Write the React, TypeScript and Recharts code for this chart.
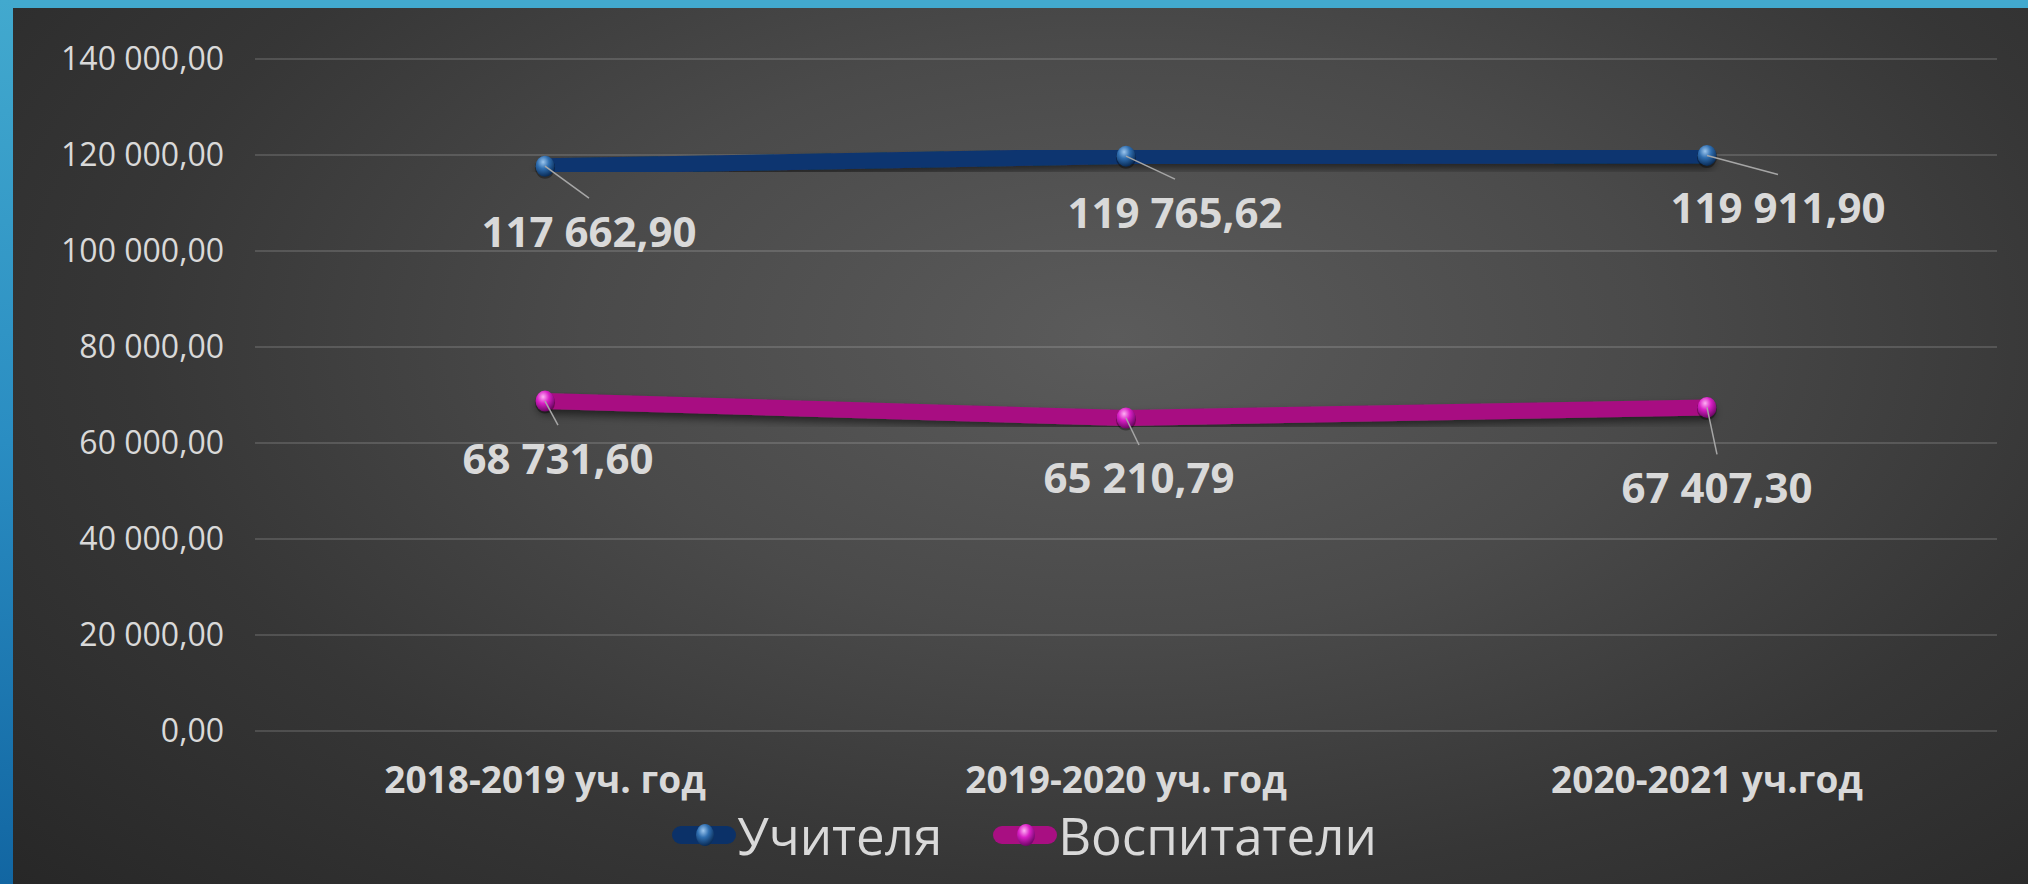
import React from "react";
import { LineChart, Line, XAxis, YAxis, CartesianGrid, Legend, LabelList } from "recharts";

const years = ["2018-2019 уч. год", "2019-2020 уч. год", "2020-2021 уч.год"];
const teachers = [117662.9, 119765.62, 119911.9];
const educators = [68731.6, 65210.79, 67407.3];
const yTicks = [0, 20000, 40000, 60000, 80000, 100000, 120000, 140000];

// label offsets from the point (text centre), px
const teacherLabelPos = [[44, 64], [49, 55], [71, 51]];
const educatorLabelPos = [[13, 56], [13, 59], [10, 79]];

const data = years.map((year, i) => ({
  year,
  teachers: teachers[i],
  educators: educators[i],
}));

function fmt(v: number): string {
  const [int, dec] = v.toFixed(2).split(".");
  return int.replace(/\B(?=(\d{3})+(?!\d))/g, " ") + "," + dec;
}

const TEXT = "#d9d9d9";
const FONT = "'Open Sans', 'DejaVu Sans', sans-serif";

function makeDot(grad: string) {
  return (p: any) => (
    <g key={`d-${p.index}`}>
      <ellipse cx={p.cx} cy={p.cy + 1.5} rx={10} ry={11} fill="rgba(0,0,0,0.35)" />
      <ellipse cx={p.cx} cy={p.cy} rx={9.5} ry={10.5} fill={`url(#${grad})`} />
    </g>
  );
}

function makeLabel(pos: number[][]) {
  return (p: any) => {
    const x = p.x ?? p.viewBox?.x;
    const y = p.y ?? p.viewBox?.y;
    const [dx, dy] = pos[p.index] || [0, 50];
    return (
      <g key={`l-${p.index}`}>
        <line x1={x} y1={y} x2={x + dx} y2={y + dy - 32} stroke="#a6a6a6" strokeWidth={1.5} />
        <text
          x={x + dx}
          y={y + dy}
          textAnchor="middle"
          dominantBaseline="central"
          fill={TEXT}
          fontSize={42}
          fontWeight={700}
          fontFamily={FONT}
        >
          {fmt(p.value)}
        </text>
      </g>
    );
  };
}

function LegendIcon({ line, grad }: { line: string; grad: string }) {
  return (
    <svg width={66} height={28} style={{ display: "block" }}>
      <defs>
        <radialGradient id={`lg-${grad}`} cx="40%" cy="30%" r="70%">
          <stop offset="0%" stopColor={grad === "blue" ? "#9cc6ee" : "#ffb0f4"} />
          <stop offset="45%" stopColor={grad === "blue" ? "#2f6eb0" : "#d91fc6"} />
          <stop offset="100%" stopColor={grad === "blue" ? "#0a2c57" : "#6e0766"} />
        </radialGradient>
      </defs>
      <rect x={1} y={5} width={64} height={18} rx={9} fill={line} />
      <ellipse cx={34} cy={14} rx={9} ry={11} fill={`url(#lg-${grad})`} />
    </svg>
  );
}

function renderLegend() {
  const items = [
    { name: "Учителя", line: "#0b3168", grad: "blue" },
    { name: "Воспитатели", line: "#a80f82", grad: "pink" },
  ];
  return (
    <div style={{ display: "flex", justifyContent: "center", alignItems: "center", gap: 50, paddingLeft: 20 }}>
      {items.map((it) => (
        <div key={it.name} style={{ display: "flex", alignItems: "center" }}>
          <LegendIcon line={it.line} grad={it.grad} />
          <span style={{ color: TEXT, fontSize: 51, fontFamily: FONT, lineHeight: "56px" }}>{it.name}</span>
        </div>
      ))}
    </div>
  );
}

export default function App() {
  return (
    <div
      style={{
        position: "absolute",
        top: 0,
        left: 0,
        width: 2028,
        height: 884,
        overflow: "hidden",
        fontFamily: FONT,
        background:
          "radial-gradient(ellipse 75% 95% at 55% 38%, #5b5b5b 0%, #4a4a4a 35%, #363636 65%, #262626 100%)",
      }}
    >
      <LineChart
        width={2028}
        height={884}
        data={data}
        margin={{ top: 59, right: 31, bottom: 0, left: 0 }}
      >
        <defs>
          <filter id="shadow" x="-5%" y="-50%" width="110%" height="200%">
            <feDropShadow dx={0} dy={5} stdDeviation={4} floodColor="#000" floodOpacity={0.55} />
          </filter>
          <radialGradient id="blueBall" cx="40%" cy="30%" r="70%">
            <stop offset="0%" stopColor="#9cc6ee" />
            <stop offset="45%" stopColor="#2f6eb0" />
            <stop offset="100%" stopColor="#0a2c57" />
          </radialGradient>
          <radialGradient id="pinkBall" cx="40%" cy="30%" r="70%">
            <stop offset="0%" stopColor="#ffb0f4" />
            <stop offset="45%" stopColor="#d91fc6" />
            <stop offset="100%" stopColor="#6e0766" />
          </radialGradient>
        </defs>
        <CartesianGrid vertical={false} stroke="rgba(255,255,255,0.14)" strokeWidth={2} />
        <XAxis
          dataKey="year"
          height={153}
          axisLine={false}
          tickLine={false}
          tickSize={0}
          tickMargin={36}
          padding={{ left: 290, right: 290 }}
          tick={{ fill: TEXT, fontSize: 37, fontWeight: 700, fontFamily: FONT }}
        />
        <YAxis
          width={255}
          domain={[0, 140000]}
          ticks={yTicks}
          axisLine={false}
          tickLine={false}
          tickSize={0}
          tickMargin={31}
          tickFormatter={fmt}
          tick={{ fill: TEXT, fontSize: 32, fontFamily: FONT }}
        />
        <Legend
          layout="horizontal"
          verticalAlign="middle"
          align="center"
          content={renderLegend}
          wrapperStyle={{ top: 807, left: 0, width: 2028, height: 56 }}
        />
        <Line
          type="linear"
          dataKey="teachers"
          name="Учителя"
          stroke="#0a3470"
          strokeWidth={16}
          strokeLinecap="round"
          filter="url(#shadow)"
          dot={makeDot("blueBall")}
          activeDot={false}
          isAnimationActive={false}
        >
          <LabelList dataKey="teachers" content={makeLabel(teacherLabelPos)} />
        </Line>
        <Line
          type="linear"
          dataKey="educators"
          name="Воспитатели"
          stroke="#a80f82"
          strokeWidth={16}
          strokeLinecap="round"
          filter="url(#shadow)"
          dot={makeDot("pinkBall")}
          activeDot={false}
          isAnimationActive={false}
        >
          <LabelList dataKey="educators" content={makeLabel(educatorLabelPos)} />
        </Line>
      </LineChart>
      <div style={{ position: "absolute", top: 0, left: 0, width: 2028, height: 8, background: "#42a9ce" }} />
      <div
        style={{
          position: "absolute",
          top: 0,
          left: 0,
          width: 13,
          height: 884,
          background: "linear-gradient(to bottom, #42a9ce, #2a8dc2 50%, #1266a2)",
        }}
      />
    </div>
  );
}
